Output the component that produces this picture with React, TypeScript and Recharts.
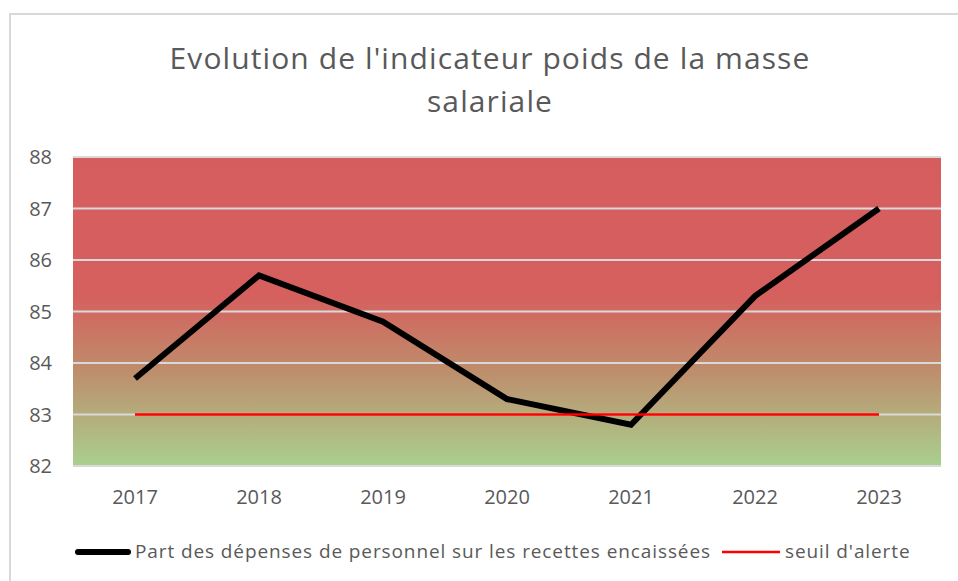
import { CartesianGrid, Line, LineChart, XAxis, YAxis } from "recharts";

const years = ["2017", "2018", "2019", "2020", "2021", "2022", "2023"];
const partDepenses = [83.7, 85.7, 84.8, 83.3, 82.8, 85.3, 87.0];
const seuilAlerte = [83, 83, 83, 83, 83, 83, 83];
const yTicks = [82, 83, 84, 85, 86, 87, 88];

const data = years.map((year, i) => ({
  year,
  part: partDepenses[i],
  seuil: seuilAlerte[i],
}));

const FONT = "'Open Sans', sans-serif";
const GREY = "#595959";

export default function App() {
  return (
    <div style={{ position: "absolute", left: 0, top: 0, width: 958, height: 581, background: "#fff", overflow: "hidden" }}>
      <div
        style={{
          position: "absolute",
          left: 9,
          top: 13,
          width: 980,
          height: 600,
          border: "2px solid #d9d9d9",
          boxSizing: "border-box",
        }}
      />
      <div style={{ position: "absolute", left: 0, top: 0 }}>
        <LineChart width={958} height={581} data={data} margin={{ top: 157, right: 17, left: 13, bottom: 85 }}>
          <defs>
            <linearGradient id="bg" x1="0" y1="0" x2="0" y2="1">
              <stop offset="0%" stopColor="#d65d5e" />
              <stop offset="45%" stopColor="#d5605e" />
              <stop offset="68%" stopColor="#bf8b6b" />
              <stop offset="100%" stopColor="#a9d08e" />
            </linearGradient>
          </defs>
          <text x={490} y={69} textAnchor="middle" fill={GREY} fontSize={30} letterSpacing={1.1} fontFamily={FONT}>
            Evolution de l'indicateur poids de la masse
          </text>
          <text x={490} y={112} textAnchor="middle" fill={GREY} fontSize={30} letterSpacing={1.1} fontFamily={FONT}>
            salariale
          </text>
          <CartesianGrid fill="url(#bg)" stroke="#d9d9d9" strokeWidth={2} vertical={false} fillOpacity={1} />
          <XAxis
            dataKey="year"
            axisLine={false}
            tickLine={false}
            height={30}
            tickMargin={18}
            padding={{ left: 62, right: 62 }}
            tick={{ fill: GREY, fontSize: 20, fontFamily: FONT }}
          />
          <YAxis
            domain={[82, 88]}
            ticks={yTicks}
            width={60}
            axisLine={false}
            tickLine={false}
            tickMargin={15}
            tick={{ fill: GREY, fontSize: 20, fontFamily: FONT }}
          />
          <Line
            dataKey="part"
            name="Part des dépenses de personnel sur les recettes encaissées"
            stroke="#000"
            strokeWidth={6}
            dot={false}
            activeDot={false}
            isAnimationActive={false}
          />
          <Line
            dataKey="seuil"
            name="seuil d'alerte"
            stroke="#ff0000"
            strokeWidth={2.5}
            dot={false}
            activeDot={false}
            isAnimationActive={false}
          />
          {/* legend */}
          <line x1={78} y1={552} x2={128} y2={552} stroke="#000" strokeWidth={6} strokeLinecap="round" />
          <text x={135} y={558} fill={GREY} fontSize={19} letterSpacing={0.9} fontFamily={FONT}>
            Part des dépenses de personnel sur les recettes encaissées
          </text>
          <line x1={722} y1={552} x2={780} y2={552} stroke="#ff0000" strokeWidth={2.5} />
          <text x={785} y={558} fill={GREY} fontSize={19} letterSpacing={0.9} fontFamily={FONT}>
            seuil d'alerte
          </text>
        </LineChart>
      </div>
    </div>
  );
}
